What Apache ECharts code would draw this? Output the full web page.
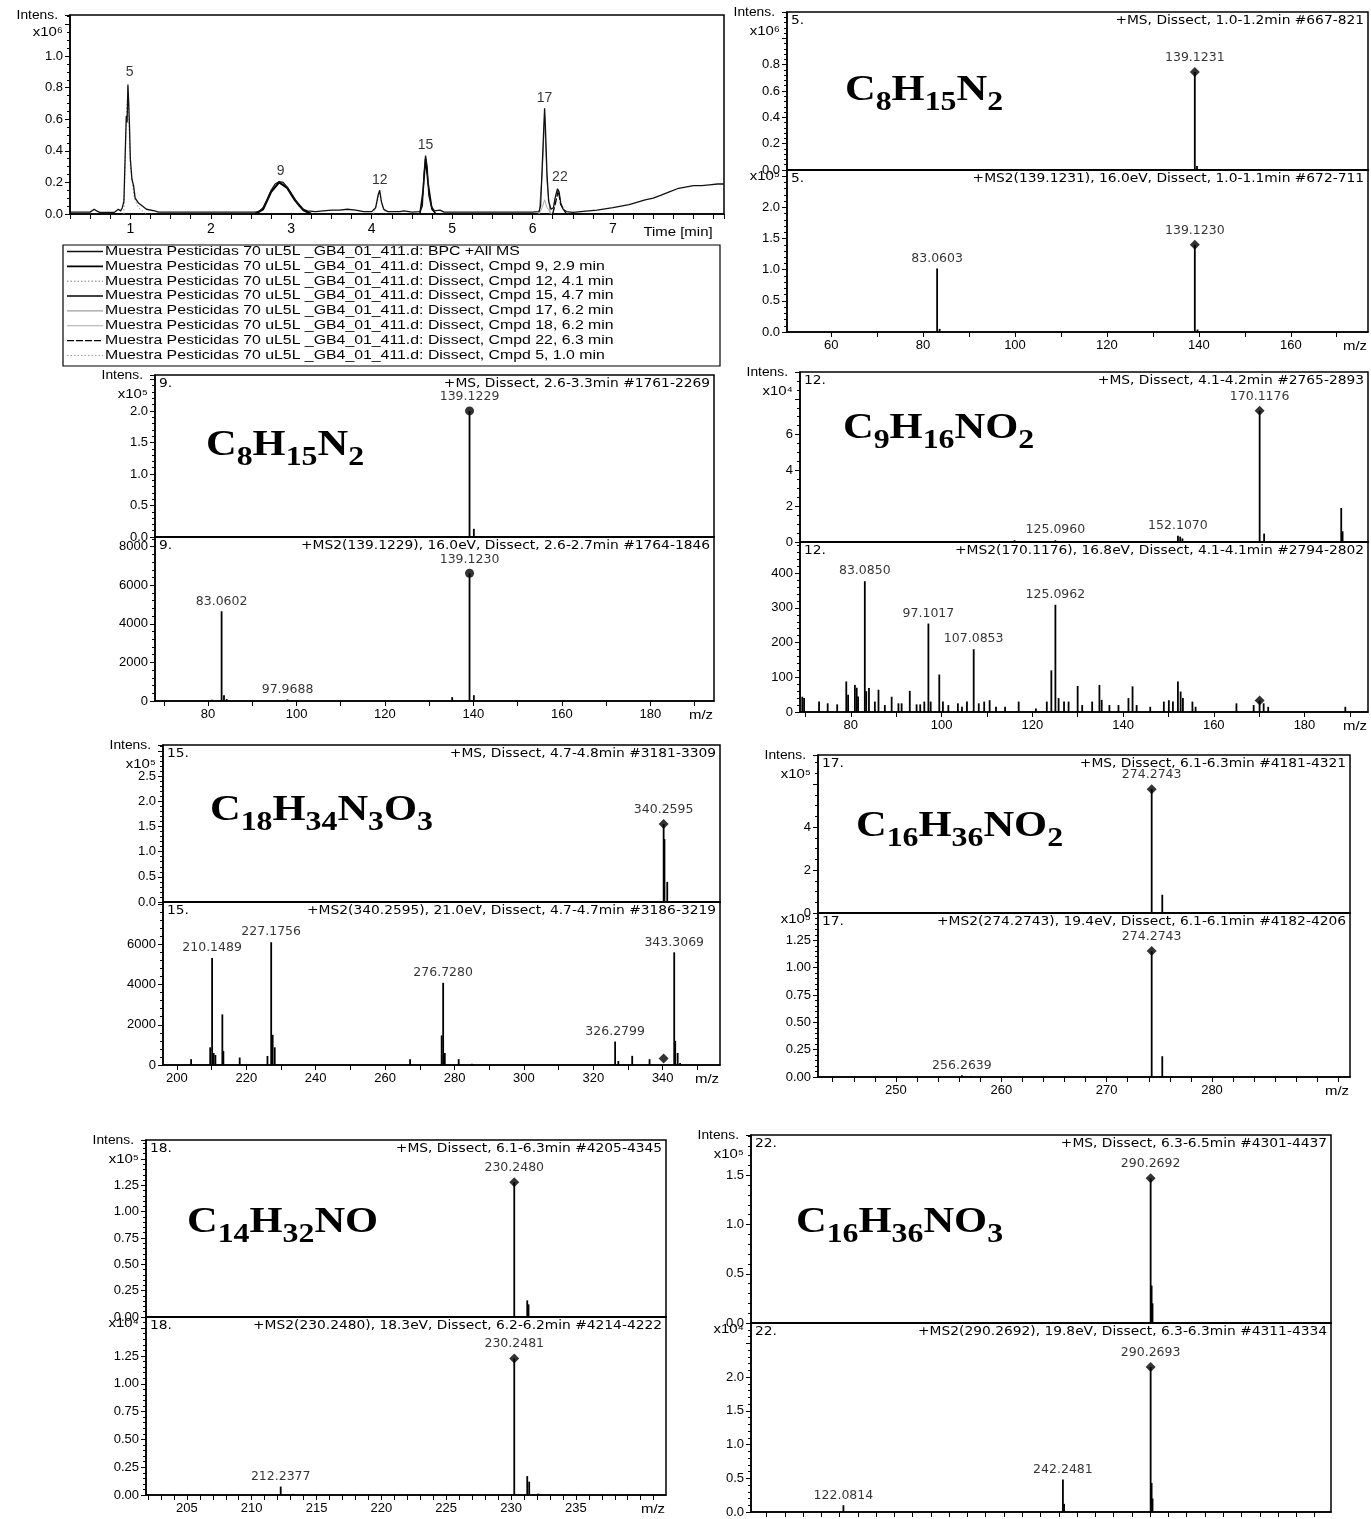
<!DOCTYPE html>
<html><head><meta charset="utf-8">
<script src="https://cdn.jsdelivr.net/npm/echarts@6/dist/echarts.min.js"></script>
<style>html,body{margin:0;padding:0;background:#fff}#c{width:1371px;height:1519px}</style>
</head><body><div id="c"></div>
<script>
// ================= DATA =================
// --- Chromatogram (BPC) ---
const chromTime = [0.25,0.4,0.5,0.55,0.58,0.62,0.8,0.85,0.88,0.9,0.92,0.94,0.95,0.96,0.97,0.98,0.99,1.0,1.02,1.04,1.06,1.1,1.15,1.2,1.3,1.35,1.6,2.0,2.4,2.55,2.6,2.65,2.7,2.75,2.8,2.85,2.9,2.95,3.0,3.05,3.1,3.15,3.2,3.3,3.4,3.5,3.6,3.7,3.8,3.9,4.0,4.05,4.08,4.1,4.12,4.15,4.2,4.35,4.4,4.5,4.6,4.63,4.65,4.67,4.69,4.71,4.74,4.78,4.85,4.9,5.5,6.0,6.08,6.1,6.12,6.14,6.15,6.16,6.18,6.2,6.23,6.26,6.28,6.31,6.33,6.35,6.38,6.42,6.5,6.6,6.8,7.0,7.2,7.4,7.5,7.6,7.7,7.8,7.9,8.0,8.1,8.2,8.3,8.38];
const chromBPC  = [0.012,0.012,0.012,0.03,0.02,0.01,0.01,0.03,0.02,0.04,0.08,0.45,0.62,0.58,0.82,0.7,0.55,0.35,0.22,0.18,0.1,0.07,0.05,0.03,0.02,0.012,0.012,0.012,0.012,0.012,0.015,0.04,0.09,0.15,0.19,0.205,0.2,0.17,0.13,0.09,0.05,0.03,0.02,0.015,0.02,0.025,0.025,0.03,0.025,0.015,0.015,0.04,0.12,0.15,0.08,0.03,0.015,0.015,0.02,0.012,0.015,0.05,0.25,0.37,0.3,0.12,0.05,0.02,0.025,0.012,0.012,0.012,0.015,0.05,0.3,0.55,0.67,0.55,0.25,0.08,0.03,0.04,0.1,0.16,0.14,0.07,0.03,0.015,0.01,0.015,0.025,0.04,0.06,0.09,0.1,0.12,0.14,0.16,0.17,0.18,0.18,0.185,0.19,0.19];
// --- Dissect compound traces ---
const cmpd9Time  = [2.55,2.65,2.75,2.85,2.95,3.05,3.15,3.25];
const cmpd9Int   = [0,0.03,0.14,0.2,0.165,0.085,0.025,0];
const cmpd12Time = [4.02,4.07,4.1,4.13,4.18];
const cmpd12Int  = [0,0.08,0.14,0.06,0];
const cmpd15Time = [4.6,4.64,4.67,4.7,4.75,4.8];
const cmpd15Int  = [0,0.15,0.35,0.2,0.03,0];
const cmpd17Time = [6.08,6.12,6.15,6.18,6.22];
const cmpd17Int  = [0,0.25,0.62,0.2,0];
const cmpd18Time = [6.08,6.12,6.15,6.18,6.24];
const cmpd18Int  = [0,0.04,0.09,0.04,0];
const cmpd22Time = [6.25,6.29,6.32,6.35,6.42];
const cmpd22Int  = [0,0.08,0.15,0.06,0];
const cmpd5Time  = [0.92,0.95,0.97,1.0,1.05,1.1,1.2];
const cmpd5Int   = [0,0.6,0.8,0.3,0.1,0.04,0];
const legendNames = [
 'Muestra Pesticidas 70 uL5L _GB4_01_411.d: BPC +All MS',
 'Muestra Pesticidas 70 uL5L _GB4_01_411.d: Dissect, Cmpd 9, 2.9 min',
 'Muestra Pesticidas 70 uL5L _GB4_01_411.d: Dissect, Cmpd 12, 4.1 min',
 'Muestra Pesticidas 70 uL5L _GB4_01_411.d: Dissect, Cmpd 15, 4.7 min',
 'Muestra Pesticidas 70 uL5L _GB4_01_411.d: Dissect, Cmpd 17, 6.2 min',
 'Muestra Pesticidas 70 uL5L _GB4_01_411.d: Dissect, Cmpd 18, 6.2 min',
 'Muestra Pesticidas 70 uL5L _GB4_01_411.d: Dissect, Cmpd 22, 6.3 min',
 'Muestra Pesticidas 70 uL5L _GB4_01_411.d: Dissect, Cmpd 5, 1.0 min'
];
const peakTagTime = [0.99,2.87,4.1,4.67,6.15,6.34];
const peakTagInt  = [0.83,0.205,0.15,0.37,0.67,0.17];
const peakTagText = ['5','9','12','15','17','22'];
const chromXLabels = [1,2,3,4,5,6,7];

// --- Cmpd 5 spectra ---
const p5MsMz = [139.1231,139.6];            const p5MsInt = [0.745,0.03];
const p5MsLabMz = [139.1231];               const p5MsLabInt = [0.745]; const p5MsLabText = ['139.1231']; const p5MsLabMark = ['diamond'];
const p5Ms2Mz = [83.0603,83.6,139.1230,139.7]; const p5Ms2Int = [1.02,0.05,1.40,0.04];
const p5Ms2LabMz = [83.0603,139.1230]; const p5Ms2LabInt = [1.02,1.40]; const p5Ms2LabText = ['83.0603','139.1230']; const p5Ms2LabMark = ['none','diamond'];
// --- Cmpd 9 ---
const p9MsMz = [139.1229,140.1];            const p9MsInt = [2.0,0.13];
const p9MsLabMz = [139.1229]; const p9MsLabInt = [2.0]; const p9MsLabText = ['139.1229']; const p9MsLabMark = ['circle'];
const p9Ms2Mz = [80.9,83.0602,83.6,84.2,97.9688,135.2,139.1230,140.1]; const p9Ms2Int = [60,4650,300,100,80,200,6620,300];
const p9Ms2LabMz = [83.0602,97.9688,139.1230]; const p9Ms2LabInt = [4650,80,6620]; const p9Ms2LabText = ['83.0602','97.9688','139.1230']; const p9Ms2LabMark = ['none','none','circle'];
// --- Cmpd 12 ---
const p12MsMz = [116.1,125.0960,152.1070,152.6,153.1,170.1176,171.1,188.1,188.4]; const p12MsInt = [0.1,0.1,0.35,0.3,0.2,7.33,0.47,1.9,0.6];
const p12MsLabMz = [125.0960,152.1070,170.1176]; const p12MsLabInt = [0.1,0.35,7.33]; const p12MsLabText = ['125.0960','152.1070','170.1176']; const p12MsLabMark = ['none','none','diamond'];
const p12Ms2Mz  = [69.3,69.7,73,74.9,77,79,79.4,80.9,81.3,81.6,83.085,83.4,84,85.3,86.1,87.5,89,90.5,91.2,93,94.5,95.3,96.2,97.1017,97.6,99.5,100.3,101.5,103.6,104.5,105.6,107.0853,108.2,109.4,110.6,112,114,117,120.8,123.2,124.2,125.0962,125.8,127,128,130,131,133.2,134.8,135.3,137,139,141.2,142.1,143,146,149,150.1,151,152.1,152.7,153.2,155.3,156,165,168.8,170.1,171,172,189];
const p12Ms2Int = [44,40,30,25,22,88,50,78,70,45,377,60,69,30,64,20,44,25,25,61,22,22,30,255,30,108,30,20,25,15,30,181,25,30,34,15,15,30,10,30,120,309,40,30,30,75,20,30,78,35,20,20,40,74,20,15,30,34,30,88,59,40,30,15,25,20,33,25,15,15];
const p12Ms2LabMz = [83.0850,97.1017,107.0853,125.0962,170.1176]; const p12Ms2LabInt = [377,255,181,309,33]; const p12Ms2LabText = ['83.0850','97.1017','107.0853','125.0962','']; const p12Ms2LabMark = ['none','none','none','none','diamond'];
// --- Cmpd 15 ---
const p15MsMz = [340.2595,340.5,341.3]; const p15MsInt = [1.55,1.25,0.4];
const p15MsLabMz = [340.2595]; const p15MsLabInt = [1.55]; const p15MsLabText = ['340.2595']; const p15MsLabMark = ['diamond'];
const p15Ms2Mz  = [204.1,209.6,210.1489,210.6,211.1,213.1,213.4,218.1,226.1,227.1756,227.6,228.2,267.2,276.3,276.7280,277.2,281.2,285,326.2799,327.2,331.2,336.2,343.3069,343.6,344.3,345];
const p15Ms2Int = [290,880,5316,600,500,2515,700,370,450,6100,1500,880,290,1470,4084,600,290,60,1165,200,455,290,5600,1200,600,100];
const p15Ms2LabMz = [210.1489,227.1756,276.7280,326.2799,343.3069,340.2595]; const p15Ms2LabInt = [5316,6100,4084,1165,5600,320]; const p15Ms2LabText = ['210.1489','227.1756','276.7280','326.2799','343.3069','']; const p15Ms2LabMark = ['none','none','none','none','none','diamond'];
// --- Cmpd 17 ---
const p17MsMz = [274.2743,275.28]; const p17MsInt = [5.77,0.85];
const p17MsLabMz = [274.2743]; const p17MsLabInt = [5.77]; const p17MsLabText = ['274.2743']; const p17MsLabMark = ['diamond'];
const p17Ms2Mz = [256.2639,257.1,274.2743,275.28,276.3]; const p17Ms2Int = [0.015,0.008,1.153,0.19,0.01];
const p17Ms2LabMz = [256.2639,274.2743]; const p17Ms2LabInt = [0.015,1.153]; const p17Ms2LabText = ['256.2639','274.2743']; const p17Ms2LabMark = ['none','diamond'];
// --- Cmpd 18 ---
const p18MsMz = [230.2480,231.25,231.35]; const p18MsInt = [1.28,0.158,0.12];
const p18MsLabMz = [230.2480]; const p18MsLabInt = [1.28]; const p18MsLabText = ['230.2480']; const p18MsLabMark = ['diamond'];
const p18Ms2Mz = [212.2377,213.2,230.2481,231.25,231.4,232.1]; const p18Ms2Int = [0.076,0.01,1.227,0.17,0.12,0.012];
const p18Ms2LabMz = [212.2377,230.2481]; const p18Ms2LabInt = [0.076,1.227]; const p18Ms2LabText = ['212.2377','230.2481']; const p18Ms2LabMark = ['none','diamond'];
// --- Cmpd 22 ---
const p22MsMz = [290.2692,290.8,291.3]; const p22MsInt = [1.47,0.38,0.2];
const p22MsLabMz = [290.2692]; const p22MsLabInt = [1.47]; const p22MsLabText = ['290.2692']; const p22MsLabMark = ['diamond'];
const p22Ms2Mz = [122.0814,242.2481,242.9,290.2693,290.8,291.3]; const p22Ms2Int = [0.1,0.48,0.12,2.15,0.43,0.2];
const p22Ms2LabMz = [122.0814,242.2481,290.2693]; const p22Ms2LabInt = [0.1,0.48,2.15]; const p22Ms2LabText = ['122.0814','242.2481','290.2693']; const p22Ms2LabMark = ['none','none','diamond'];

// ================= PANELS (text + axis settings) =================
const panels = [
 {id:'5.', msHead:'+MS, Dissect, 1.0-1.2min #667-821', ms2Head:'+MS2(139.1231), 16.0eV, Dissect, 1.0-1.1min #672-711', formula:'C{8}H{15}N{2}',
  box:[787,1368,12,170,332], fpos:[845,83],
  x:{min:50.4,max:176.8,tick:[60,170,10],lab:[60,160,20]},
  ms:{max:1.2,int:0.2,dec:1,hide:0.85,exp:'x10⁶'}, ms2:{max:2.6,int:0.5,dec:1,hide:2.1,exp:'x10⁵'},
  d:[p5MsMz,p5MsInt,p5MsLabMz,p5MsLabInt,p5MsLabText,p5MsLabMark,p5Ms2Mz,p5Ms2Int,p5Ms2LabMz,p5Ms2LabInt,p5Ms2LabText,p5Ms2LabMark]},
 {id:'9.', msHead:'+MS, Dissect, 2.6-3.3min #1761-2269', ms2Head:'+MS2(139.1229), 16.0eV, Dissect, 2.6-2.7min #1764-1846', formula:'C{8}H{15}N{2}',
  box:[155,714,375,537,701], fpos:[206,438],
  x:{min:68.0,max:194.4,tick:[70,190,10],lab:[80,180,20]},
  ms:{max:2.57,int:0.5,dec:1,hide:2.1,exp:'x10⁵'}, ms2:{max:8500,int:2000,dec:0,hide:8100,exp:''},
  d:[p9MsMz,p9MsInt,p9MsLabMz,p9MsLabInt,p9MsLabText,p9MsLabMark,p9Ms2Mz,p9Ms2Int,p9Ms2LabMz,p9Ms2LabInt,p9Ms2LabText,p9Ms2LabMark]},
 {id:'12.', msHead:'+MS, Dissect, 4.1-4.2min #2765-2893', ms2Head:'+MS2(170.1176), 16.8eV, Dissect, 4.1-4.1min #2794-2802', formula:'C{9}H{16}NO{2}',
  box:[800,1368,372,542,712], fpos:[843,421],
  x:{min:68.8,max:194,tick:[70,190,10],lab:[80,180,20]},
  ms:{max:9.5,int:2,dec:0,hide:7,exp:'x10⁴',minor:4}, ms2:{max:490,int:100,dec:0,hide:450,exp:''},
  d:[p12MsMz,p12MsInt,p12MsLabMz,p12MsLabInt,p12MsLabText,p12MsLabMark,p12Ms2Mz,p12Ms2Int,p12Ms2LabMz,p12Ms2LabInt,p12Ms2LabText,p12Ms2LabMark]},
 {id:'15.', msHead:'+MS, Dissect, 4.7-4.8min #3181-3309', ms2Head:'+MS2(340.2595), 21.0eV, Dissect, 4.7-4.7min #3186-3219', formula:'C{18}H{34}N{3}O{3}',
  box:[163,720,745,902,1065], fpos:[210,803],
  x:{min:196,max:356.5,tick:[200,350,10],lab:[200,340,20]},
  ms:{max:3.12,int:0.5,dec:1,hide:2.6,exp:'x10⁵'}, ms2:{max:8100,int:2000,dec:0,hide:7000,exp:''},
  d:[p15MsMz,p15MsInt,p15MsLabMz,p15MsLabInt,p15MsLabText,p15MsLabMark,p15Ms2Mz,p15Ms2Int,p15Ms2LabMz,p15Ms2LabInt,p15Ms2LabText,p15Ms2LabMark]},
 {id:'17.', msHead:'+MS, Dissect, 6.1-6.3min #4181-4321', ms2Head:'+MS2(274.2743), 19.4eV, Dissect, 6.1-6.1min #4182-4206', formula:'C{16}H{36}NO{2}',
  box:[818,1350,755,913,1077], fpos:[856,819],
  x:{min:242.6,max:293.1,tick:[244,292,2],lab:[250,280,10]},
  ms:{max:7.36,int:2,dec:0,hide:5,exp:'x10⁵',minor:4}, ms2:{max:1.5,int:0.25,dec:2,hide:1.3,exp:'x10⁵'},
  d:[p17MsMz,p17MsInt,p17MsLabMz,p17MsLabInt,p17MsLabText,p17MsLabMark,p17Ms2Mz,p17Ms2Int,p17Ms2LabMz,p17Ms2LabInt,p17Ms2LabText,p17Ms2LabMark]},
 {id:'18.', msHead:'+MS, Dissect, 6.1-6.3min #4205-4345', ms2Head:'+MS2(230.2480), 18.3eV, Dissect, 6.2-6.2min #4214-4222', formula:'C{14}H{32}NO',
  box:[146,666,1140,1317,1495], fpos:[187,1215],
  x:{min:201.85,max:241.95,tick:[202,241,1],lab:[205,235,5]},
  ms:{max:1.68,int:0.25,dec:2,hide:1.3,exp:'x10⁵'}, ms2:{max:1.6,int:0.25,dec:2,hide:1.3,exp:'x10⁴'},
  d:[p18MsMz,p18MsInt,p18MsLabMz,p18MsLabInt,p18MsLabText,p18MsLabMark,p18Ms2Mz,p18Ms2Int,p18Ms2LabMz,p18Ms2LabInt,p18Ms2LabText,p18Ms2LabMark]},
 {id:'22.', msHead:'+MS, Dissect, 6.3-6.5min #4301-4437', ms2Head:'+MS2(290.2692), 19.8eV, Dissect, 6.3-6.3min #4311-4334', formula:'C{16}H{36}NO{3}',
  box:[751,1331,1135,1323,1512], fpos:[796,1215],
  x:{min:71.5,max:389,tick:[80,380,10],lab:null},
  ms:{max:1.91,int:0.5,dec:1,hide:1.6,exp:'x10⁵'}, ms2:{max:2.8,int:0.5,dec:1,hide:2.1,exp:'x10⁴'},
  d:[p22MsMz,p22MsInt,p22MsLabMz,p22MsLabInt,p22MsLabText,p22MsLabMark,p22Ms2Mz,p22Ms2Int,p22Ms2LabMz,p22Ms2LabInt,p22Ms2LabText,p22Ms2LabMark]}
];

// ================= BUILD =================
const AX_FONT = 'Liberation Sans, Arial, sans-serif';
const LAB_FONT = 'DejaVu Sans, sans-serif';
const SERIF = 'Liberation Serif, Times New Roman, serif';
const zip = (a,b) => a.map((v,i)=>[v,b[i]]);
const range = (a,b,s) => { const r=[]; for(let v=a; v<=b+1e-9; v+=s) r.push(+v.toFixed(6)); return r; };

const grids=[], xAxes=[], yAxes=[], series=[], graphics=[];

function yAx(gi, c){
  return {type:'value', gridIndex:gi, min:0, max:c.max, interval:c.int,
    axisLine:{show:true, lineStyle:{color:'#000', width:1.5}},
    axisTick:{show:true, length:5, lineStyle:{color:'#000', width:1}},
    minorTick:{show:true, splitNumber:c.minor||5, length:3, lineStyle:{color:'#000', width:1}},
    splitLine:{show:false},
    axisLabel:{color:'#000', fontFamily:AX_FONT, fontSize:13, margin:7,
      formatter: v => (v > c.hide + 1e-9 ? '' : v.toFixed(c.dec))}};
}
function txt(x, y, text, font, align, sx, extra){
  return Object.assign({type:'text', x:x, y:y, scaleX:sx||1, silent:true,
    style:{text:text, font:font, fill:'#000', textAlign:align||'left', textVerticalAlign:'middle'}}, extra||{});
}

// --- chromatogram ---
const CH = {l:70, r:724, top:15, bot:214};
grids.push({left:CH.l, top:CH.top, width:CH.r-CH.l, height:CH.bot-CH.top, show:true, borderColor:'#000', borderWidth:1.5});
xAxes.push({type:'value', gridIndex:0, min:0.25, max:8.38, interval:0.25,
  axisLine:{show:true, lineStyle:{color:'#000', width:1.5}},
  axisTick:{show:true, length:5, lineStyle:{color:'#000'}}, splitLine:{show:false},
  axisLabel:{color:'#000', fontFamily:AX_FONT, fontSize:14, margin:8,
    formatter: v => { const r=Math.round(v); return (Math.abs(v-r)<1e-6 && chromXLabels.indexOf(r)>=0) ? String(r) : ''; }}});
yAxes.push(yAx(0,{max:1.26,int:0.2,dec:1,hide:1.05,minor:4}));

const traceStyles = [
  {color:'#111', width:1.3, type:'solid'},
  {color:'#000', width:2.2, type:'solid'},
  {color:'#777', width:1, type:[1.5,2]},
  {color:'#000', width:1.6, type:'solid'},
  {color:'#888', width:1, type:'solid'},
  {color:'#aaa', width:1, type:'solid'},
  {color:'#000', width:1.3, type:[7,2]},
  {color:'#999', width:1, type:[1.5,2]}
];
const traceData = [zip(chromTime,chromBPC), zip(cmpd9Time,cmpd9Int), zip(cmpd12Time,cmpd12Int), zip(cmpd15Time,cmpd15Int),
  zip(cmpd17Time,cmpd17Int), zip(cmpd18Time,cmpd18Int), zip(cmpd22Time,cmpd22Int), zip(cmpd5Time,cmpd5Int)];
traceData.forEach((d,i)=>{
  series.push({type:'line', name:legendNames[i], xAxisIndex:0, yAxisIndex:0, data:d, symbol:'none',
    lineStyle:traceStyles[i], itemStyle:{color:traceStyles[i].color}, z: i===0 ? 5 : 3, silent:true});
});
series.push({type:'scatter', xAxisIndex:0, yAxisIndex:0, symbol:'circle', symbolSize:1, itemStyle:{color:'rgba(0,0,0,0)'},
  data: peakTagTime.map((t,i)=>({value:[t,peakTagInt[i]], label:{formatter:peakTagText[i]}})),
  label:{show:true, position:'top', distance:3, color:'#000', fontFamily:AX_FONT, fontSize:14}, silent:true, z:6});

// legend box (drawn as graphic to match the stretched source lettering)
graphics.push({type:'rect', silent:true, shape:{x:63, y:245, width:657, height:121}, style:{fill:'none', stroke:'#000', lineWidth:1.2}, z:0});
legendNames.forEach((n,i)=>{
  const yc = 251.5 + 14.85*i, st = traceStyles[i];
  graphics.push({type:'line', silent:true, shape:{x1:67, y1:yc, x2:103, y2:yc},
    style:{stroke:st.color, lineWidth:Math.min(st.width,1.8), lineDash: Array.isArray(st.type) ? st.type : null}});
  graphics.push(txt(105, yc, n, '12px '+AX_FONT, 'left', 1.32));
});
graphics.push(txt(CH.l-12, CH.top+1, 'Intens.', '12px '+AX_FONT, 'right', 1.15));
graphics.push(txt(CH.l-7, CH.top+17, 'x10⁶', '13px '+AX_FONT, 'right', 1.15));
graphics.push(txt(678, 232, 'Time [min]', '13px '+AX_FONT, 'center', 1.15));

// --- spectra ---
function formulaRich(f){
  return f.replace(/\{(\d+)\}/g, '{s|$1}').replace(/([A-Z][a-z]?)(?![^{]*\})/g, '{m|$1}');
}
panels.forEach((p)=>{
  const [L,R,T,M,B] = p.box;
  const g1 = grids.length, g2 = g1+1;
  grids.push({left:L, top:T, width:R-L, height:M-T, show:true, borderColor:'#000', borderWidth:1.5});
  grids.push({left:L, top:M, width:R-L, height:B-M, show:true, borderColor:'#000', borderWidth:1.5});
  xAxes.push({type:'value', gridIndex:g1, min:p.x.min, max:p.x.max, axisLine:{show:true, lineStyle:{color:'#000', width:2}},
    axisTick:{show:false}, axisLabel:{show:false}, splitLine:{show:false}});
  xAxes.push({type:'value', gridIndex:g2, min:p.x.min, max:p.x.max, axisLine:{show:true, lineStyle:{color:'#000', width:1.5}},
    axisTick:{show:true, length:5, lineStyle:{color:'#000'}, customValues: range(p.x.tick[0],p.x.tick[1],p.x.tick[2])},
    axisLabel: p.x.lab ? {show:true, color:'#000', fontFamily:AX_FONT, fontSize:13, margin:7,
       customValues: range(p.x.lab[0],p.x.lab[1],p.x.lab[2]), formatter: v=>String(Math.round(v))} : {show:false},
    splitLine:{show:false}});
  yAxes.push(yAx(g1,p.ms));
  yAxes.push(yAx(g2,p.ms2));
  const d = p.d;
  [[g1,d[0],d[1],d[2],d[3],d[4],d[5]],[g2,d[6],d[7],d[8],d[9],d[10],d[11]]].forEach(([gi,mz,it,lmz,lit,ltx,lmk])=>{
    series.push({type:'bar', xAxisIndex:gi, yAxisIndex:gi, data:zip(mz,it), barWidth:1.8, itemStyle:{color:'#000'}, silent:true});
    series.push({type:'scatter', xAxisIndex:gi, yAxisIndex:gi, silent:true, z:4,
      data: lmz.map((m,i)=>({value:[m,lit[i]],
        symbol: lmk[i]==='none' ? 'circle' : lmk[i],
        symbolSize: lmk[i]==='none' ? 1 : (lmk[i]==='circle' ? 9 : 10),
        itemStyle:{color: lmk[i]==='none' ? 'rgba(0,0,0,0)' : '#000'},
        label:{show: ltx[i]!=='', formatter: ltx[i]}})),
      label:{show:true, position:'top', distance:3, color:'#000', fontFamily:LAB_FONT, fontSize:12.5}});
  });
  const hf = '12px '+LAB_FONT, HS = 1.15;
  graphics.push(txt(L+4, T+9, p.id, hf, 'left', HS));
  graphics.push(txt(R-4, T+9, p.msHead, hf, 'right', HS));
  graphics.push(txt(L+4, M+9, p.id, hf, 'left', HS));
  graphics.push(txt(R-4, M+9, p.ms2Head, hf, 'right', HS));
  graphics.push(txt(L-12, T+1, 'Intens.', '12px '+AX_FONT, 'right', 1.15));
  if (p.ms.exp) graphics.push(txt(L-7, T+19, p.ms.exp, '13px '+AX_FONT, 'right', 1.15));
  if (p.ms2.exp) graphics.push(txt(L-7, M+6, p.ms2.exp, '13px '+AX_FONT, 'right', 1.15));
  if (p.x.lab) graphics.push(txt(R-13, B+14, 'm/z', '13px '+AX_FONT, 'center', 1.15));
  graphics.push({type:'text', x:p.fpos[0], y:p.fpos[1]-10, z:10, scaleX:1.18, silent:true, style:{
    text: formulaRich(p.formula), fill:'#000', textVerticalAlign:'top',
    rich:{
      m:{fontFamily:SERIF, fontWeight:'bold', fontSize:36, lineHeight:44, verticalAlign:'top', fill:'#000'},
      s:{fontFamily:SERIF, fontWeight:'bold', fontSize:27, lineHeight:24, verticalAlign:'bottom', fill:'#000'}
    }}});
});

const chart = echarts.init(document.getElementById('c'), null, {renderer:'canvas'});
chart.setOption({
  animation:false, backgroundColor:'#fff',
  grid:grids, xAxis:xAxes, yAxis:yAxes, series:series,
  graphic:{elements:graphics}
});
</script>
</body></html>
